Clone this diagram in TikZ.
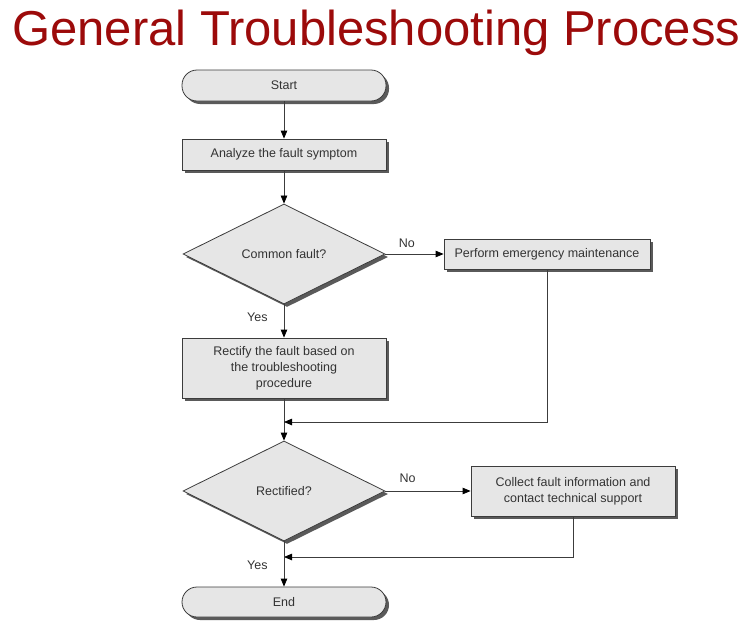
\documentclass[tikz,border=0pt]{standalone}
\usepackage{fontspec}
\setmainfont{Liberation Sans}
\usetikzlibrary{shapes.geometric,shadows,arrows.meta}
\definecolor{titlered}{HTML}{9C0A0A}
\definecolor{boxfill}{HTML}{E6E6E6}
\definecolor{edgecol}{HTML}{3C3C3C}
\definecolor{shad}{HTML}{5A5A5A}
\definecolor{txt}{HTML}{333333}
\begin{document}
\begin{tikzpicture}[x=1pt,y=-1pt,
 base/.style={draw=edgecol, fill=boxfill, line width=0.8pt, text=txt, font=\fontsize{12.5}{16}\selectfont, drop shadow={shadow xshift=3pt, shadow yshift=-3pt, fill=shad, opacity=1}},
 procbox/.style={base, rectangle, minimum width=204pt, inner sep=0pt, align=center},
 pill/.style={base, rectangle, rounded corners=15pt, minimum width=204pt, minimum height=31pt},
 decision/.style={base, diamond, minimum width=202pt, minimum height=100pt, inner sep=0pt, aspect=2},
 flow/.style={draw=edgecol, line width=0.8pt, -{Triangle[length=8pt,width=6.5pt,color=black]}},
 lbl/.style={text=txt, font=\fontsize{12.5}{15}\selectfont, inner sep=0pt}
]
\useasboundingbox[fill=white] (0,0) rectangle (748,624);
\node[anchor=base west, text=titlered, font=\fontsize{49}{55}\selectfont, inner sep=0pt] (title) at (12,45) {General Troubleshooting Process};

\node[pill] (start) at (284,85.5) {Start};
\node[procbox, minimum height=31pt] (analyze) at (284,154.5) {Analyze the fault symptom};
\node[decision] (common) at (284,254) {Common fault?};
\node[procbox, minimum width=206pt, minimum height=30pt] (perform) at (547,254) {Perform emergency maintenance};
\node[procbox, minimum height=60pt] (rectify) at (284,368) {Rectify the fault based on\\the troubleshooting\\procedure};
\node[decision] (rectified) at (284,491) {Rectified?};
\node[procbox, minimum height=50pt] (collect) at (573,491) {Collect fault information and\\contact technical support};
\node[pill, minimum height=30pt] (end) at (284,602) {End};

\coordinate (m1) at (284,422);
\coordinate (m2) at (284,557);

\draw[flow] (start) -- (analyze);
\draw[flow] (analyze) -- (common);
\draw[flow] (common.east) -- node[lbl, above=6pt, pos=0.37] {No} (perform.west);
\draw[flow] (common.south) -- node[lbl, left=16pt, pos=0.4] {Yes} (rectify.north);
\draw[flow] (rectify) -- (rectified);
\draw[flow] (perform.south) |- (m1);
\draw[flow] (rectified.east) -- node[lbl, above=8pt, pos=0.26] {No} (collect.west);
\draw[flow] (collect.south) |- (m2);
\draw[flow] (rectified.south) -- node[lbl, left=16pt, pos=0.53] {Yes} (end.north);
\end{tikzpicture}
\end{document}
